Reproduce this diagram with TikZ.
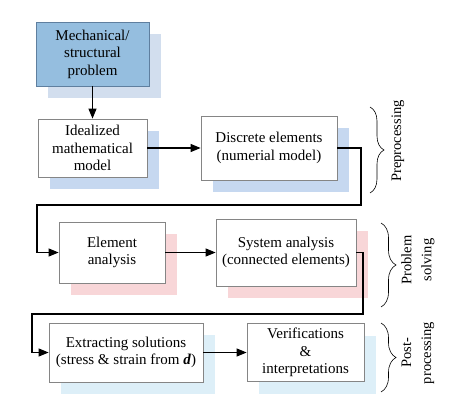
\documentclass[tikz,border=0pt]{standalone}
\usepackage{fontspec}
\setmainfont{Liberation Serif}
\usetikzlibrary{arrows.meta,shadows,decorations.pathreplacing}
\definecolor{topfill}{HTML}{95BEDF}
\definecolor{topborder}{HTML}{5F7F9F}
\definecolor{topshadow}{HTML}{D2DEEE}
\definecolor{blueshadow}{HTML}{C6D8F0}
\definecolor{pinkshadow}{HTML}{F8D6D8}
\definecolor{cyanshadow}{HTML}{DDEFF8}
\definecolor{boxborder}{HTML}{858585}
\tikzset{
  box/.style={draw=boxborder, line width=0.8pt, fill=white, inner sep=0pt,
    align=center, font=\fontsize{15}{17.5}\selectfont},
  sh/.style={general shadow={fill=#1, shadow xshift=12pt, shadow yshift=-12pt}},
  conn/.style={line width=1.1pt, -{Triangle[length=10pt,width=8pt]}},
  brc/.style={decorate, decoration={brace, amplitude=#1}, line width=0.6pt},
  lbl/.style={rotate=90, align=center, font=\fontsize{14.5}{20}\selectfont}
}
\begin{document}
\begin{tikzpicture}[x=1pt,y=-1pt]
\useasboundingbox (0,0) rectangle (461,404);
\node[box, sh=topshadow, fill=topfill, draw=topborder, minimum width=113pt, minimum height=64pt] (b1) at (92.5,54) {Mechanical/\\structural\\problem};
\node[box, sh=blueshadow, minimum width=109pt, minimum height=58pt] (b2) at (92.5,148) {Idealized\\mathematical\\model};
\node[box, sh=blueshadow, minimum width=136pt, minimum height=64pt] (b3) at (269,148) {Discrete elements\\(numerial model)};
\node[box, sh=pinkshadow, minimum width=106pt, minimum height=61pt] (b4) at (112,252.5) {Element\\analysis};
\node[box, sh=pinkshadow, minimum width=140pt, minimum height=67pt] (b5) at (286,252.5) {System analysis\\(connected elements)};
\node[box, sh=cyanshadow, minimum width=154pt, minimum height=59pt] (b6) at (126,352.5) {Extracting solutions\\(stress \& strain from \textbf{\textit{d}})};
\node[box, sh=cyanshadow, minimum width=117pt, minimum height=58pt] (b7) at (305.5,352.5) {Verifications\\\&\\interpretations};

\coordinate (c1) at (361,205);
\coordinate (c2) at (37,205);
\coordinate (c3) at (363,314);
\coordinate (c4) at (32,314);

\draw[conn] (b1) -- (b2);
\draw[conn] (b2) -- (b3);
\draw[conn] (b3.east) -| (c1) -- (c2) |- (b4.west);
\draw[conn] (b4) -- (b5);
\draw[conn] (b5.east) -| (c3) -- (c4) |- (b6.west);
\draw[conn] (b6) -- (b7);

\coordinate (p1a) at (370,107);
\coordinate (p1b) at (370,193);
\coordinate (p2a) at (381,223);
\coordinate (p2b) at (381,307);
\coordinate (p3a) at (381,323);
\coordinate (p3b) at (381,392);
\draw[brc=14pt] (p1a) -- (p1b);
\draw[brc=15pt] (p2a) -- (p2b);
\draw[brc=15pt] (p3a) -- (p3b);
\node[lbl] (t1) at (398,141) {Preprocessing};
\node[lbl] (t2) at (418,260) {Problem\\solving};
\node[lbl] (t3) at (418,353) {Post-\\processing};
\end{tikzpicture}
\end{document}
